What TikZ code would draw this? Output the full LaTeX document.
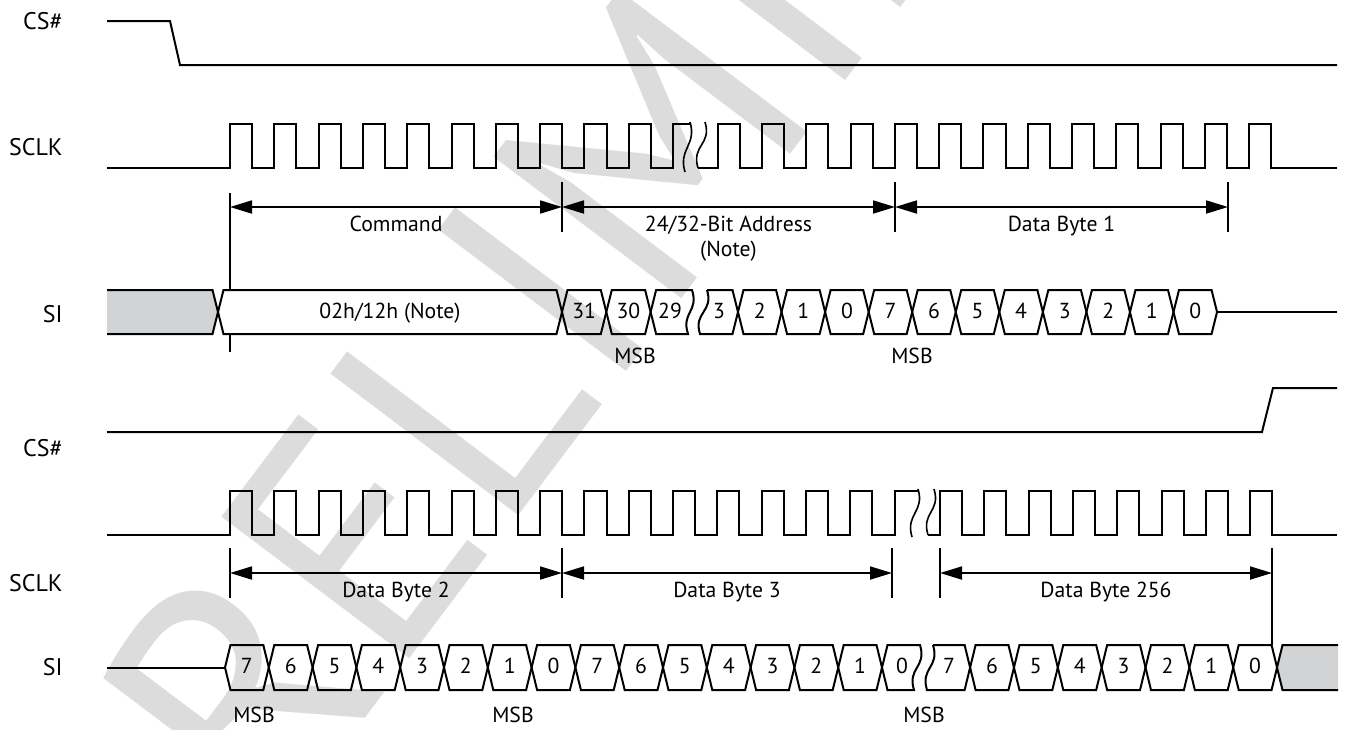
\documentclass[tikz,border=0pt]{standalone}
\usepackage{fontspec}
\setmainfont{PT Sans}
\usetikzlibrary{arrows.meta}
\definecolor{cDc}  {HTML}{D1D3D4}
\definecolor{cMark}{HTML}{DCDCDC}
\newcommand\lblsize{\fontsize{10.85pt}{13pt}\selectfont}
\newcommand\sigsize{\fontsize{12pt}{14pt}\selectfont}
\tikzset{
  wave/.style  ={draw=black,line width=1pt,line join=miter},
  dimln/.style ={draw=black,line width=0.9pt,
                 {Triangle[length=11pt,width=6.5pt]}-{Triangle[length=11pt,width=6.5pt]}},
  tick/.style  ={draw=black,line width=0.9pt},
  brk/.style   ={draw=black,line width=0.8pt},
  lbl/.style   ={font=\lblsize,inner sep=0pt,anchor=base},
  sig/.style   ={font=\sigsize,inner sep=0pt,anchor=base east},
  wmark/.style ={font=\fontsize{168pt}{168pt}\selectfont,text=cMark,
                 rotate=53,inner sep=0pt},
}

\begin{document}
\begin{tikzpicture}[x=0.5pt,y=-0.5pt]
\useasboundingbox (0,0) rectangle (1348,729);

% ===== watermark ===========================================================
\begin{scope}
  \clip (0,0) rectangle (1348,729);
  \node[wmark] (mark) at (665,125) {PRELIMINARY};
\end{scope}

% ===== first frame: CS# / SCLK =============================================
\node[sig] (csA) at (63,29) {CS\#};
\draw[wave] (107,21) -- (170,21) -- (180,65) -- (1337,65);

\node[sig] (clkA) at (63,155) {SCLK};
\draw[wave] (107,168) -- (230,168)
  \foreach \k in {1,...,10} {-- ++(0,-44) -- ++(22.15,0) -- ++(0,44) -- ++(22.15,0)}
  -- ++(0,-44) -- (690,124);
\draw[wave] (698,168) -- (717.6,168)
  \foreach \k in {1,...,13} {-- ++(0,-44) -- ++(22.15,0) -- ++(0,44) -- ++(22.15,0)}
  -- (1337,168);
\draw[brk] (690,122) .. controls +(7,23) and +(-7,-23) .. (685,172);
\draw[brk] (705,122) .. controls +(7,23) and +(-7,-23) .. (698,168);

% ===== first frame: field markers ==========================================
\coordinate (fA0) at (230,207);
\coordinate (fA1) at (562,207);
\coordinate (fA2) at (895,207);
\coordinate (fA3) at (1228,207);
\draw[tick] (230,193) -- (230,290) (230,334) -- (230,352);
\foreach \x in {562,895,1228} \draw[tick] (\x,182) -- (\x,232);
\draw[dimln] (fA0) -- (fA1);
\draw[dimln] (fA1) -- (fA2);
\draw[dimln] (fA2) -- (fA3);
\node[lbl] (cmdLbl)  at (396,231)   {Command};
\node[lbl] (addrLbl) at (728.5,231) {24/32-Bit Address};
\node[lbl] (addrNt)  at (728.5,256) {(Note)};
\node[lbl] (db1Lbl)  at (1061.5,231) {Data Byte 1};

% ===== first frame: SI =====================================================
\node[sig] (siA) at (63,322) {SI};
\fill[cDc] (107,290) -- (212.5,290) -- (218,312) -- (212.5,334) -- (107,334) -- cycle;
\draw[wave] (107,290) -- (212.5,290) -- (218,312) -- (212.5,334) -- (107,334);
\draw[wave] (218,312) -- (223.5,290) -- (556.5,290) -- (562,312)
  -- (556.5,334) -- (223.5,334) -- cycle;
\node[lbl] (cmdCell) at (390,318) {02h/12h (Note)};
\foreach \a/\t in {562/31,606.3/30} {
  \draw[wave] (\a,312) -- ++(5.5,-22) -- ++(33.3,0) -- ++(5.5,22)
    -- ++(-5.5,22) -- ++(-33.3,0) -- cycle;
  \node[lbl] (adr\t) at (\a+22.15,318) {\t};
}
% address cut
\draw[wave] (650.6,312) -- (656.1,290) -- (692,290)
  .. controls +(7,22) and +(-7,-22) .. (688,334) -- (656.1,334) -- cycle;
\node[lbl] (adr29) at (670,318) {29};
\draw[wave] (707,290) -- (732.5,290) -- (738,312) -- (732.5,334) -- (700,334)
  .. controls +(-7,-22) and +(7,22) .. (707,290);
\node[lbl] (adr3) at (719,318) {3};
\foreach \t [count=\j from 0] in {2,1,0,7,6,5,4,3,2,1,0} {
  \draw[wave] (738+43.55*\j,312) -- ++(5.5,-22) -- ++(32.55,0) -- ++(5.5,22)
    -- ++(-5.5,22) -- ++(-32.55,0) -- cycle;
  \node[lbl] (bitA\j) at (738+43.55*\j+21.8,318) {\t};
}
\draw[wave] (1217,312) -- (1337,312);
\node[lbl] (msbA) at (635,363) {MSB};
\node[lbl] (msbB) at (912,363) {MSB};

% ===== second frame: CS# / SCLK ============================================
\node[sig] (csB) at (63,456) {CS\#};
\draw[wave] (107,432) -- (1262,432) -- (1273,388) -- (1337,388);

\node[sig] (clkB) at (63,591) {SCLK};
\draw[wave] (107,535) -- (230,535)
  \foreach \k in {1,...,15} {-- ++(0,-44) -- ++(22.15,0) -- ++(0,44) -- ++(22.15,0)}
  -- ++(0,-44) -- (918,491);
\draw[wave] (928,535) -- (940,535)
  \foreach \k in {1,...,8} {-- ++(0,-44) -- ++(22.15,0) -- ++(0,44) -- ++(22.15,0)}
  -- (1337,535);
\draw[brk] (918,489) .. controls +(7,23) and +(-7,-23) .. (912,537);
\draw[brk] (934,489) .. controls +(7,23) and +(-7,-23) .. (928,535);

% ===== second frame: field markers =========================================
\coordinate (fB0) at (230,573);
\coordinate (fB1) at (562,573);
\coordinate (fB2) at (892,573);
\coordinate (fB3) at (940,573);
\coordinate (fB4) at (1272,573);
\foreach \x in {230,562,892,940} \draw[tick] (\x,548) -- (\x,598);
\draw[tick] (1272,548) -- (1272,645);
\draw[dimln] (fB0) -- (fB1);
\draw[dimln] (fB1) -- (fB2);
\draw[dimln] (fB3) -- (fB4);
\node[lbl] (db2Lbl) at (396,597)  {Data Byte 2};
\node[lbl] (db3Lbl) at (727,597)  {Data Byte 3};
\node[lbl] (dbNLbl) at (1106,597) {Data Byte 256};

% ===== second frame: SI ====================================================
\node[sig] (siB) at (63,675) {SI};
\draw[wave] (107,667.5) -- (225,667.5);
\foreach \t [count=\j from 0] in {7,6,5,4,3,2,1,0,7,6,5,4,3,2,1} {
  \draw[wave] (225+43.8*\j,667.5) -- ++(5.5,-22.5) -- ++(32.8,0) -- ++(5.5,22.5)
    -- ++(-5.5,22.5) -- ++(-32.8,0) -- cycle;
  \node[lbl] (bitB\j) at (225+43.8*\j+21.9,673) {\t};
}
% data cut
\draw[wave] (882,667.5) -- (887.5,645) -- (920,645)
  .. controls +(7,22.5) and +(-7,-22.5) .. (914,690) -- (887.5,690) -- cycle;
\node[lbl] (bitBc) at (902,673) {0};
\draw[wave] (933,645) -- (964.6,645) -- (970.1,667.5) -- (964.6,690) -- (927,690)
  .. controls +(-7,-22.5) and +(7,22.5) .. (933,645);
\node[lbl] (bitBd) at (949,673) {7};
\foreach \t [count=\j from 0] in {6,5,4,3,2,1,0} {
  \draw[wave] (970.1+43.85*\j,667.5) -- ++(5.5,-22.5) -- ++(32.85,0) -- ++(5.5,22.5)
    -- ++(-5.5,22.5) -- ++(-32.85,0) -- cycle;
  \node[lbl] (bitC\j) at (970.1+43.85*\j+21.9,673) {\t};
}
\fill[cDc] (1277,667.5) -- (1282.5,645) -- (1338,645) -- (1338,690) -- (1282.5,690) -- cycle;
\draw[wave] (1338,645) -- (1282.5,645) -- (1277,667.5) -- (1282.5,690) -- (1338,690);
\node[lbl] (msbC) at (254,722) {MSB};
\node[lbl] (msbD) at (513,722) {MSB};
\node[lbl] (msbE) at (924,722) {MSB};
\end{tikzpicture}
\end{document}
